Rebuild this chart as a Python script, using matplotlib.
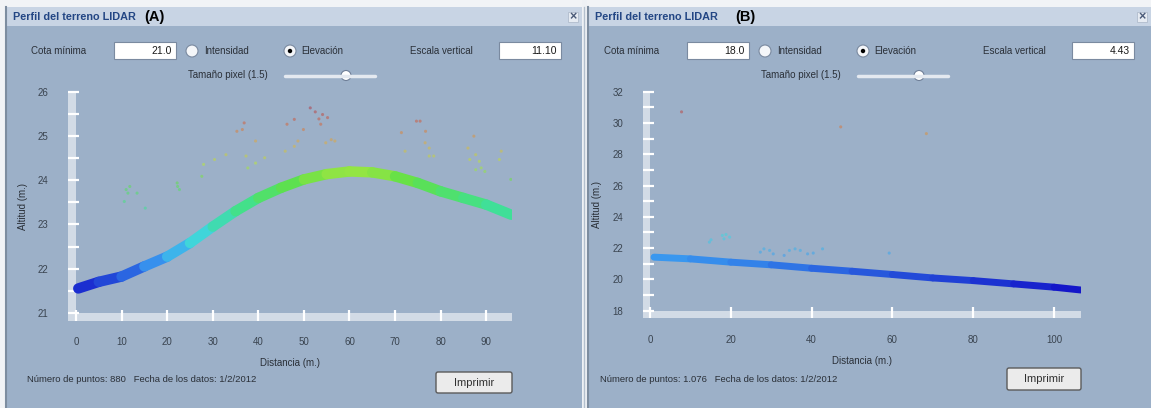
import numpy as np
import matplotlib.pyplot as plt
from matplotlib.collections import LineCollection
from matplotlib.colors import LinearSegmentedColormap, Normalize
from matplotlib.patches import Rectangle, Circle, FancyBboxPatch

plt.rcParams['font.family'] = ['Liberation Sans', 'DejaVu Sans']

W, H = 1151, 408

# ---- panel A: ground profile and scattered returns (distance m, altitude m)
dist_a = [0.5, 5, 10, 15, 20, 25, 30, 35, 40, 45, 50, 55, 60, 65, 70, 75, 80, 85, 90, 95.5]
elev_a = [21.55, 21.70, 21.82, 22.05, 22.27, 22.58, 22.95, 23.30, 23.60, 23.83,
          24.02, 24.14, 24.20, 24.18, 24.09, 23.94, 23.75, 23.60, 23.45, 23.22]
pts_xa = [11.0, 11.8, 10.6, 11.4, 13.4, 15.2, 22.3, 22.7, 22.2, 27.6, 28.0, 30.4, 32.9,
          35.3, 36.5, 36.9, 37.3, 37.7, 39.4, 41.4, 39.4, 45.9, 46.3, 47.9, 47.9, 48.7,
          49.9, 51.4, 52.5, 53.3, 54.1, 55.2, 53.7, 54.8, 56.0, 56.8, 71.4, 72.2, 74.7,
          75.5, 76.7, 76.6, 77.5, 77.5, 78.5, 87.3, 86.0, 86.4, 87.7, 88.5, 88.9, 89.7,
          87.7, 93.3, 92.9, 95.4]
pts_ya = [23.79, 23.86, 23.52, 23.71, 23.71, 23.37, 23.86, 23.79, 23.94, 24.09, 24.36,
          24.47, 24.58, 25.11, 25.15, 25.30, 24.55, 24.28, 24.39, 24.51, 24.89, 24.66,
          25.27, 25.38, 24.77, 24.89, 25.15, 25.64, 25.55, 25.39, 25.49, 25.42, 25.27,
          24.85, 24.92, 24.89, 25.08, 24.66, 25.34, 25.34, 25.11, 24.85, 24.73, 24.55,
          24.55, 25.00, 24.73, 24.47, 24.58, 24.43, 24.28, 24.20, 24.24, 24.66, 24.47,
          24.02]

# ---- panel B
dist_b = [1, 10, 20, 30, 40, 50, 60, 70, 80, 90, 100, 106.6]
elev_b = [21.42, 21.31, 21.10, 20.93, 20.71, 20.52, 20.31, 20.09, 19.92, 19.71, 19.50, 19.32]
pts_xb = [7.8, 47.2, 68.4, 14.7, 15.1, 17.9, 18.8, 19.7, 18.3, 27.3, 28.2, 29.6, 30.5,
          33.2, 34.5, 35.9, 37.2, 39.0, 40.4, 42.7, 59.2]
pts_yb = [30.71, 29.75, 29.32, 22.38, 22.53, 22.81, 22.87, 22.70, 22.59, 21.74, 21.95,
          21.85, 21.63, 21.53, 21.85, 21.95, 21.85, 21.63, 21.68, 21.95, 21.68]

cmap = LinearSegmentedColormap.from_list('lidar', [
    (0.0, '#00008f'), (0.1, '#1414c8'), (0.25, '#3a9af0'), (0.35, '#40d4e4'),
    (0.5, '#40e090'), (0.62, '#60e048'), (0.7, '#b8e840'), (0.8, '#e0b040'),
    (0.9, '#d06040'), (1.0, '#a03050')])

BODY = '#9cb0c8'
TITLEBAR = '#c8d4e4'
BAND = '#d2dbe6'
TXT = '#2a3038'

fig = plt.figure(figsize=(W / 100, H / 100), dpi=100)
fig.patch.set_facecolor('#f1f3f6')
bg = fig.add_axes([0, 0, 1, 1])
bg.set_xlim(0, W)
bg.set_ylim(H, 0)
bg.axis('off')


def px_rect(l, t, r, b):
    return [l / W, 1 - b / H, (r - l) / W, (b - t) / H]


def chrome(x0, x1, dx, label, label_x, cota, escala, npts):
    bg.add_patch(Rectangle((x0, 7), x1 - x0, H - 7, fc=BODY, ec='none'))
    bg.add_patch(Rectangle((x0, 7), x1 - x0, 19, fc=TITLEBAR, ec='none'))
    bg.plot([x0 + 1.5, x0 + 1.5], [7, H], color='#7d8da0', lw=1.5)
    bg.text(x0 + 8, 17, 'Perfil del terreno LIDAR', fontsize=7.8, fontweight='bold',
            color='#234684', va='center', ha='left')
    bg.text(label_x, 17.5, label, fontsize=10.5, fontweight='bold', color='black',
            va='center', ha='left')
    bg.add_patch(Rectangle((x1 - 14, 12), 10, 10, fc='#e6ebf2', ec='#b0bccc', lw=0.6))
    bg.text(x1 - 9, 17, '×', fontsize=9, color='#4a5a78', ha='center', va='center',
            fontweight='bold')
    # controls
    bg.text(31 + dx, 51, 'Cota mínima', fontsize=7, color=TXT, va='center')
    bg.add_patch(Rectangle((114 + dx, 42), 62, 17, fc='white', ec='#7a8aa0', lw=0.8))
    bg.text(172 + dx, 51, cota, fontsize=7.5, color='#1a1a1a', va='center', ha='right')
    bg.add_patch(Circle((192 + dx, 51), 6, fc='#f4f6f9', ec='#7a8aa0', lw=0.8))
    bg.text(204 + dx, 51, 'Intensidad', fontsize=7, color=TXT, va='center')
    bg.add_patch(Circle((290 + dx, 51), 6, fc='#f4f6f9', ec='#7a8aa0', lw=0.8))
    bg.add_patch(Circle((290 + dx, 51), 2.2, fc='black', ec='none'))
    bg.text(301 + dx, 51, 'Elevación', fontsize=7, color=TXT, va='center')
    bg.text(410 + dx, 51, 'Escala vertical', fontsize=7, color=TXT, va='center')
    bg.add_patch(Rectangle((499 + dx, 42), 62, 17, fc='white', ec='#7a8aa0', lw=0.8))
    bg.text(557 + dx, 51, escala, fontsize=7.5, color='#1a1a1a', va='center', ha='right')
    bg.text(188 + dx, 75.5, 'Tamaño pixel (1.5)', fontsize=7, color=TXT, va='center')
    bg.plot([285 + dx, 375 + dx], [75.5, 75.5], color='#e4e9f0', lw=2.5,
            solid_capstyle='round')
    bg.add_patch(Circle((346 + dx, 75.5), 5, fc='white', ec='#6f7f98', lw=0.8))
    # footer
    bg.text(27 + dx, 380, 'Número de puntos: %s   Fecha de los datos: 1/2/2012' % npts,
            fontsize=6.8, color=TXT, va='center')


chrome(5, 582, 0, '(A)', 144, '21.0', '11.10', '880')
chrome(587, 1151, 573, '(B)', 735, '18.0', '4.43', '1.076')
bg.add_patch(Rectangle((582, 0), 5, H, fc='#eef1f5', ec='none'))
bg.plot([584.5, 584.5], [7, H], color='#b3bfcd', lw=1)

for (l, r, t, b) in [(436, 512, 372, 393), (1007, 1081, 368, 390)]:
    bg.add_patch(FancyBboxPatch((l, t), r - l, b - t, boxstyle='round,pad=0,rounding_size=2',
                                fc='#ebebeb', ec='#5a5a5a', lw=1))
    bg.text((l + r) / 2, (t + b) / 2 + 0.5, 'Imprimir', fontsize=8, color='#303030',
            ha='center', va='center')


def profile(rect, xlim, ylim, xticks, yticks, ysub, dist, elev, px, py, norm, lw):
    ax = fig.add_axes(px_rect(*rect))
    ax.set_facecolor('none')
    for s in ax.spines.values():
        s.set_visible(False)
    ax.set_xlim(*xlim)
    ax.set_ylim(*ylim)
    ax.axvspan(xlim[0], 0, color=BAND, lw=0, zorder=0)
    ax.axhspan(ylim[0], yticks[0], color=BAND, lw=0, zorder=0)
    ax.set_xticks(xticks)
    ax.set_yticks(yticks)
    ax.set_yticks(ysub, minor=True)
    ax.tick_params(which='both', direction='in', length=8, width=1.6, color='white',
                   labelcolor='#3a4450', labelsize=7)
    ax.tick_params(axis='y', which='both', pad=14)
    ax.tick_params(axis='x', which='both', pad=12)
    x = np.array(dist)
    y = np.array(elev)
    segs = np.stack([np.column_stack([x[:-1], y[:-1]]), np.column_stack([x[1:], y[1:]])], axis=1)
    cols = cmap(norm((y[:-1] + y[1:]) / 2))
    ax.add_collection(LineCollection(segs, colors=cols, linewidths=lw, capstyle='round',
                                     joinstyle='round', zorder=3))
    ax.scatter(px, py, c=cmap(norm(np.array(py))), s=5, marker='o', lw=0, alpha=0.55,
               zorder=4)
    ax.set_xlabel('Distancia (m.)', fontsize=7, color=TXT, labelpad=8)
    ax.set_ylabel('Altitud (m.)', fontsize=7, color=TXT, labelpad=7)
    return ax


profile((67.7, 92, 511.7, 320.7), (-1.82, 95.6), (20.82, 26),
        range(0, 100, 10), range(21, 27), np.arange(21.5, 26, 1),
        dist_a, elev_a, pts_xa, pts_ya, Normalize(21, 25.8), 7.5)
profile((642.5, 91.7, 1080.7, 318.3), (-1.86, 106.6), (17.51, 32),
        range(0, 101, 20), range(18, 33, 2), range(19, 32, 2),
        dist_b, elev_b, pts_xb, pts_yb, Normalize(18, 31.5), 5)

fig.savefig('out.png', dpi=100, facecolor=fig.get_facecolor())
